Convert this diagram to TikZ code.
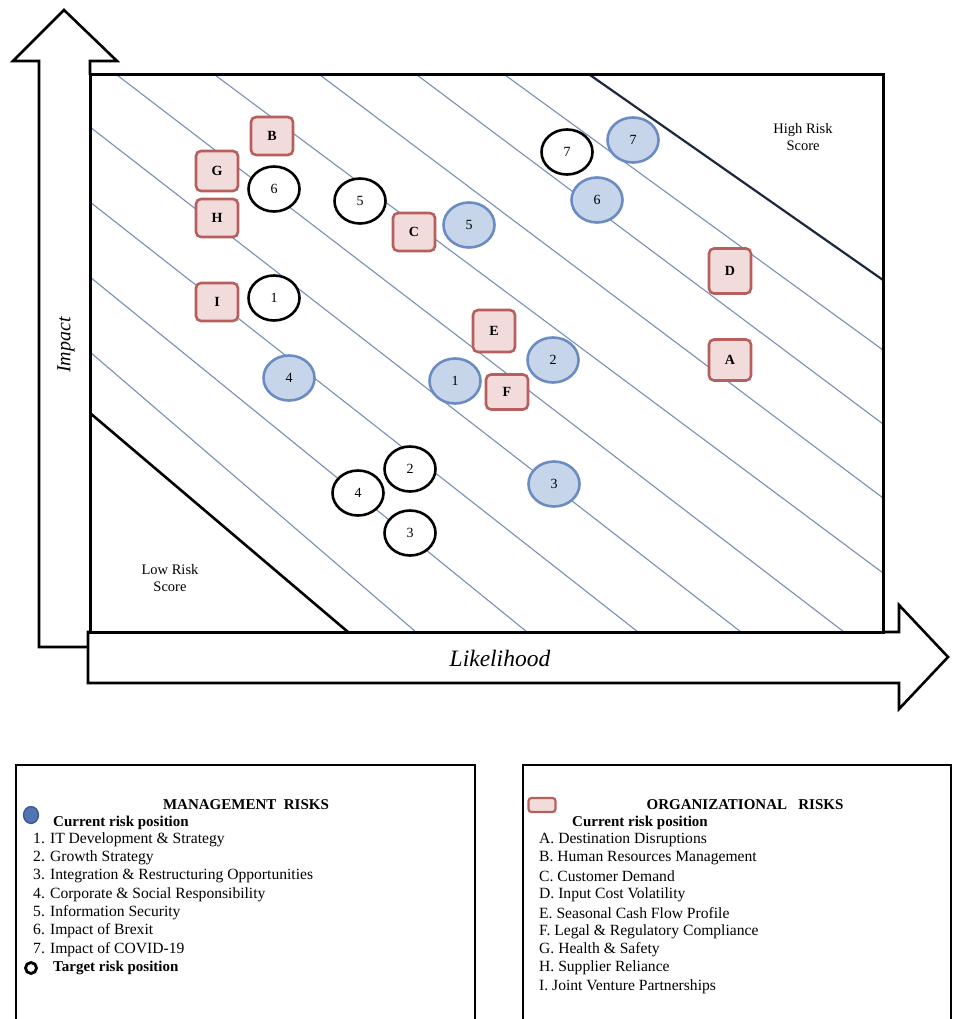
\documentclass[tikz,border=0pt]{standalone}
\usepackage{fontspec}
\setmainfont{Liberation Serif}
\usetikzlibrary{shapes.geometric}
\definecolor{hatchblue}{HTML}{7690B8}
\definecolor{curfill}{HTML}{C6D5EA}
\definecolor{curline}{HTML}{6A8CC2}
\definecolor{orgfill}{HTML}{F2DCDB}
\definecolor{orgline}{HTML}{B65F5C}
\definecolor{keyblue}{HTML}{4F75B5}
\definecolor{keyline}{HTML}{36568A}
\definecolor{navy}{HTML}{1C2740}
\begin{document}
\begin{tikzpicture}[x=1pt,y=-1pt,
    arrowline/.style={draw=black,fill=white,line width=2.6pt,line join=miter},
    hatch/.style={draw=hatchblue,line width=1.1pt},
    cur/.style={ellipse,draw=curline,fill=curfill,line width=2.6pt,minimum width=51pt,minimum height=45pt,inner sep=0pt,font=\fontsize{14}{14}\selectfont},
    tgt/.style={ellipse,draw=black,fill=white,line width=2.6pt,minimum width=51pt,minimum height=45pt,inner sep=0pt,font=\fontsize{14}{14}\selectfont},
    org/.style={rectangle,rounded corners=5pt,draw=orgline,fill=orgfill,line width=2.6pt,minimum width=42pt,minimum height=38pt,inner sep=0pt,font=\fontsize{14}{14}\selectfont\bfseries},
    item/.style={anchor=west,inner sep=0pt,font=\fontsize{15.6}{18}\selectfont},
    head/.style={inner sep=0pt,font=\fontsize{15}{18}\selectfont\bfseries},
    zone/.style={align=center,inner sep=0pt,font=\fontsize{14.5}{17}\selectfont}]
\useasboundingbox (0,0) rectangle (954,1019);

\draw[arrowline] (88,647) -- (39,647) -- (39,61) -- (13,61) -- (64,10) -- (117,61) -- (90,61) -- (90,75);
\draw[arrowline] (883,632) -- (899,632) -- (899,605) -- (948,657) -- (899,709) -- (899,683) -- (88,683) -- (88,632) -- (90,632);
\fill[white] (90,75) rectangle (883,632);

\foreach \xa/\ya/\xb/\yb in {90/352/416/632,90/277/527/632,90/202/638/632,90/127/741/632,
    117/75/844/632,215/75/883/573,320/75/883/498,417/75/883/424,505/75/883/350}
  \draw[hatch] (\xa,\ya) -- (\xb,\yb);
\draw[navy,line width=2.2pt] (590,75) -- (883,280);
\draw[line width=2.6pt] (90,413) -- (348,632);
\draw[line width=3pt] (90,75) rectangle (883,632);

\node[zone] (high) at (803,137) {High Risk\\Score};
\node[zone] (low) at (170,578) {Low Risk\\Score};
\node[rotate=90,inner sep=0pt,font=\fontsize{20}{20}\selectfont\itshape] (impact) at (66,345) {Impact};
\node[inner sep=0pt,font=\fontsize{23.5}{24}\selectfont\itshape] (likely) at (500,658) {Likelihood};

\node[tgt] (t1) at (274,298) {1};
\node[tgt] (t2) at (410,469) {2};
\node[tgt] (t3) at (410,533) {3};
\node[tgt] (t4) at (358,493) {4};
\node[tgt] (t5) at (360,201) {5};
\node[tgt] (t6) at (274,189) {6};
\node[tgt] (t7) at (567,152) {7};

\node[cur] (c1) at (455,381) {1};
\node[cur] (c2) at (553,360) {2};
\node[cur] (c3) at (554,484) {3};
\node[cur] (c4) at (289,378) {4};
\node[cur] (c5) at (469,225) {5};
\node[cur] (c6) at (597,200) {6};
\node[cur] (c7) at (633,140) {7};

\node[org,minimum height=41pt] (oA) at (730,360) {A};
\node[org] (oB) at (272,136) {B};
\node[org] (oC) at (414,232) {C};
\node[org,minimum height=45pt] (oD) at (730,271) {D};
\node[org,minimum height=42pt] (oE) at (494,331) {E};
\node[org,minimum height=35pt] (oF) at (507,392) {F};
\node[org,minimum height=40pt] (oG) at (217,171) {G};
\node[org] (oH) at (217,218) {H};
\node[org] (oI) at (217,302) {I};

\draw[line width=2.5pt] (16,1040) -- (16,765) -- (475,765) -- (475,1040);
\draw[line width=2.5pt] (523,1040) -- (523,765) -- (951,765) -- (951,1040);

\node[ellipse,draw=keyline,fill=keyblue,line width=1.2pt,minimum width=15pt,minimum height=17pt,inner sep=0pt] (keycur) at (31,815) {};
\node[head] (mgmt) at (246,805) {MANAGEMENT\ \ RISKS};
\node[head,anchor=west] (mcur) at (53,823) {Current risk position};
\foreach \t [count=\i] in {IT Development \& Strategy,Growth Strategy,Integration \& Restructuring Opportunities,
    Corporate \& Social Responsibility,Information Security,Impact of Brexit,Impact of COVID-19}
  \node[item] (m\i) at (33,{840+18.2*(\i-1)}) {\i. \t};
\node[circle,draw=black,line width=2.8pt,minimum size=11pt,inner sep=0pt] (keytgt) at (31,968) {};
\node[head,anchor=west] (mtgt) at (53,968) {Target risk position};

\node[rectangle,rounded corners=3pt,draw=orgline,fill=orgfill,line width=2.2pt,minimum width=27pt,minimum height=14pt,inner sep=0pt] (keyorg) at (542,805) {};
\node[head] (orgz) at (745,805) {ORGANIZATIONAL\ \ \ RISKS};
\node[head,anchor=west] (ocur) at (572,823) {Current risk position};
\foreach \l/\t [count=\i] in {A/Destination Disruptions,B/Human Resources Management,C/Customer Demand,
    D/Input Cost Volatility,E/Seasonal Cash Flow Profile,F/Legal \& Regulatory Compliance,
    G/Health \& Safety,H/Supplier Reliance,I/Joint Venture Partnerships}
  \node[item] (o\i) at (539,{840+18.3*(\i-1)}) {\l. \t};
\end{tikzpicture}
\end{document}
